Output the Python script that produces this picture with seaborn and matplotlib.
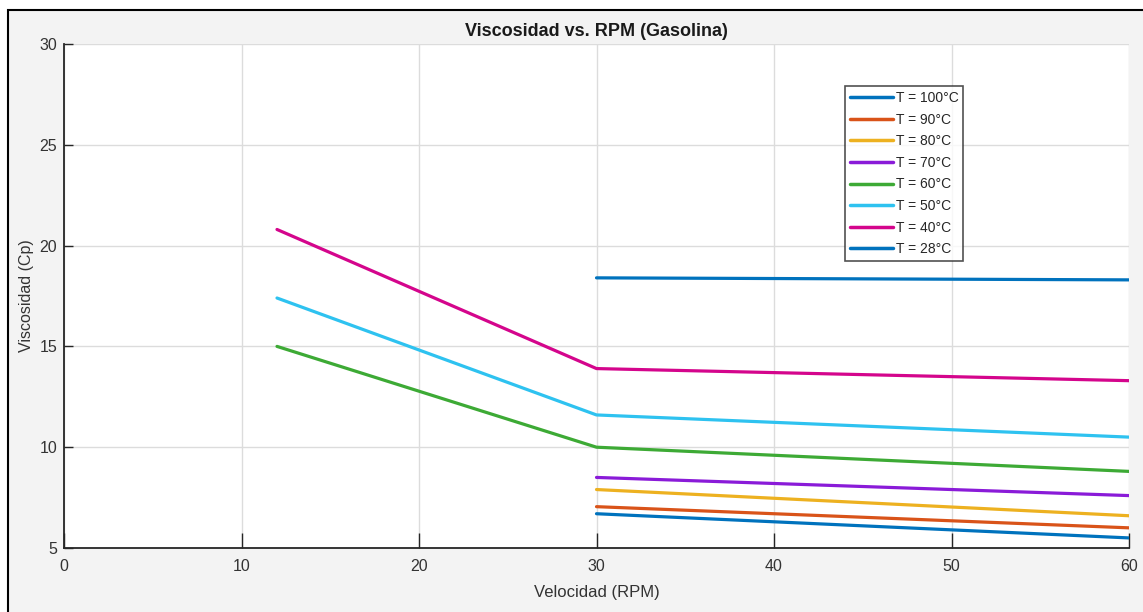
import matplotlib.pyplot as plt
import matplotlib.patches as mpatches
import seaborn as sns
import pandas as pd

# Viscosity readings (Cp) per temperature
rpm_full = [12, 30, 60]
rpm_short = [30, 60]

visc_100 = [6.7, 5.5]
visc_90 = [7.05, 6.0]
visc_80 = [7.9, 6.6]
visc_70 = [8.5, 7.6]
visc_60 = [15.0, 10.0, 8.8]
visc_50 = [17.4, 11.6, 10.5]
visc_40 = [20.8, 13.9, 13.3]
visc_28 = [18.4, 18.3]

labels = ['T = 100°C', 'T = 90°C', 'T = 80°C', 'T = 70°C',
          'T = 60°C', 'T = 50°C', 'T = 40°C', 'T = 28°C']
colors = ['#0072BD', '#D95319', '#EDB120', '#8A1BD8',
          '#3DAA35', '#2EC2F0', '#D4058C', '#0072BD']

series = [(rpm_short, visc_100), (rpm_short, visc_90), (rpm_short, visc_80),
          (rpm_short, visc_70), (rpm_full, visc_60), (rpm_full, visc_50),
          (rpm_full, visc_40), (rpm_short, visc_28)]

rows = []
for lab, (xs, ys) in zip(labels, series):
    for x, y in zip(xs, ys):
        rows.append({'RPM': x, 'Visc': y, 'Serie': lab})
df = pd.DataFrame(rows)

sns.set_style('white')
plt.rcParams['font.family'] = ['Liberation Sans', 'DejaVu Sans']

fig = plt.figure(figsize=(11.43, 6.12), dpi=100, facecolor='white')
# grey panel with black frame, like the screenshot
fig.patches.append(mpatches.Rectangle((8 / 1143, -0.05), 1.1, (612 - 10) / 612 + 0.05,
                                      transform=fig.transFigure, facecolor='#f3f3f3',
                                      edgecolor='black', linewidth=1.5, zorder=-10))

ax = fig.add_axes([64 / 1143, 1 - 548 / 612, (1129 - 64) / 1143, (548 - 44) / 612])
ax.set_facecolor('white')

sns.lineplot(data=df, x='RPM', y='Visc', hue='Serie', hue_order=labels,
             palette=dict(zip(labels, colors)), linewidth=2.3, ax=ax,
             estimator=None, sort=True)

ax.set_xlim(0, 60)
ax.set_ylim(5, 30)
ax.set_xticks(range(0, 61, 10))
ax.set_yticks(range(5, 31, 5))
ax.grid(True, color='#dcdcdc', linewidth=1)
ax.set_axisbelow(True)
for s in ['top', 'right']:
    ax.spines[s].set_visible(False)
for s in ['left', 'bottom']:
    ax.spines[s].set_color('#262626')
    ax.spines[s].set_linewidth(1.3)
ax.tick_params(bottom=True, left=True, direction='in', width=1, colors='#262626',
               labelsize=11.5, labelcolor='#333333')
ax.tick_params(axis='x', length=11, pad=8)
ax.tick_params(axis='y', length=6.5, pad=5)

ax.set_title('Viscosidad vs. RPM (Gasolina)', fontsize=13, fontweight='bold',
             color='#1a1a1a', pad=6)
ax.set_xlabel('Velocidad (RPM)', fontsize=12, color='#333333', va='center')
ax.set_ylabel('Viscosidad (Cp)', fontsize=11.5, color='#333333', va='center')
ax.xaxis.set_label_coords(0.5, (548 - 593) / 504)
ax.yaxis.set_label_coords((26 - 64) / 1065, 0.5)

leg = ax.legend(loc='upper left', bbox_to_anchor=((845 - 64) / (1129 - 64), 1 - (86 - 44) / 504),
                frameon=True, fancybox=False, edgecolor='#262626', fontsize=10,
                handlelength=3.1, handletextpad=0.2, labelspacing=0.55,
                borderpad=0.35, borderaxespad=0)
leg.get_frame().set_linewidth(1.2)
for line in leg.get_lines():
    line.set_linewidth(2.5)

fig.savefig('out.png', dpi=100, facecolor=fig.get_facecolor())
